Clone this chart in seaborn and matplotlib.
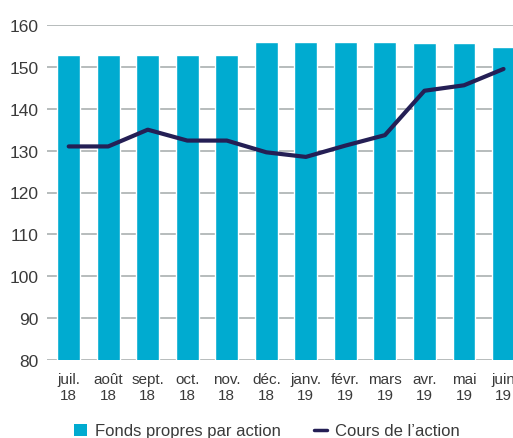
import matplotlib
matplotlib.use("Agg")
import matplotlib.pyplot as plt
from matplotlib.patches import Patch
from matplotlib.lines import Line2D
import seaborn as sns
import pandas as pd

months = ["juil.\n18", "août\n18", "sept.\n18", "oct.\n18", "nov.\n18", "déc.\n18",
          "janv.\n19", "févr.\n19", "mars\n19", "avr.\n19", "mai\n19", "juin\n19"]
equity_per_share = [152.8, 152.8, 152.8, 152.8, 152.8, 155.9,
                    155.9, 155.9, 155.9, 155.7, 155.7, 154.7]
share_price = [131.0, 131.0, 135.0, 132.4, 132.4, 129.6,
               128.5, 131.2, 133.7, 144.3, 145.6, 149.5]
y_ticks = [80, 90, 100, 110, 120, 130, 140, 150, 160]

bar_color = "#00abd0"
line_color = "#241f55"
text_color = "#3a3a3a"
grid_color = "#a3aaaa"

sns.set_theme(style="white")
plt.rcParams["font.family"] = ["Liberation Sans", "DejaVu Sans"]

df = pd.DataFrame({"mois": months, "fp": equity_per_share, "cours": share_price})

fig = plt.figure(figsize=(5.13, 4.39), dpi=100)
ax = fig.add_axes([47 / 513, 1 - 361 / 439, 1 - 47 / 513 + 0.02, (361 - 26) / 439])

for v in y_ticks:
    ax.axhline(v, color=grid_color, lw=1.1, zorder=0)

sns.barplot(data=df, x="mois", y="fp", color=bar_color, width=0.58,
            saturation=1, ax=ax, zorder=2)
sns.lineplot(data=df, x="mois", y="cours", sort=False, color=line_color,
             lw=3.0, ax=ax, zorder=3)

ax.set_ylim(80, 160)
ax.set_xlim(-0.549, 11.24 + 0.02 * 513 / 39.52)
ax.set_yticks(y_ticks)
ax.set_yticklabels([str(v) for v in y_ticks])
ax.set_xlabel("")
ax.set_ylabel("")
for s in ax.spines.values():
    s.set_visible(False)
ax.tick_params(axis="y", length=0, pad=6, labelsize=12.5, labelcolor=text_color)
ax.tick_params(axis="x", length=0, pad=9, labelsize=11, labelcolor=text_color)
for lab in ax.get_xticklabels():
    lab.set_linespacing(1.1)

handles = [Patch(facecolor=bar_color, edgecolor="none"),
           Line2D([], [], color=line_color, lw=2.5)]
fig.legend(handles, ["Fonds propres par action", "Cours de l\u2019action"],
           loc="center", bbox_to_anchor=(267 / 513, 1 - 432 / 439), ncol=2,
           frameon=False, fontsize=12, handlelength=0.75, handleheight=0.75,
           columnspacing=2.0, handletextpad=0.5, labelcolor=text_color)

fig.savefig("out.png", dpi=100)
